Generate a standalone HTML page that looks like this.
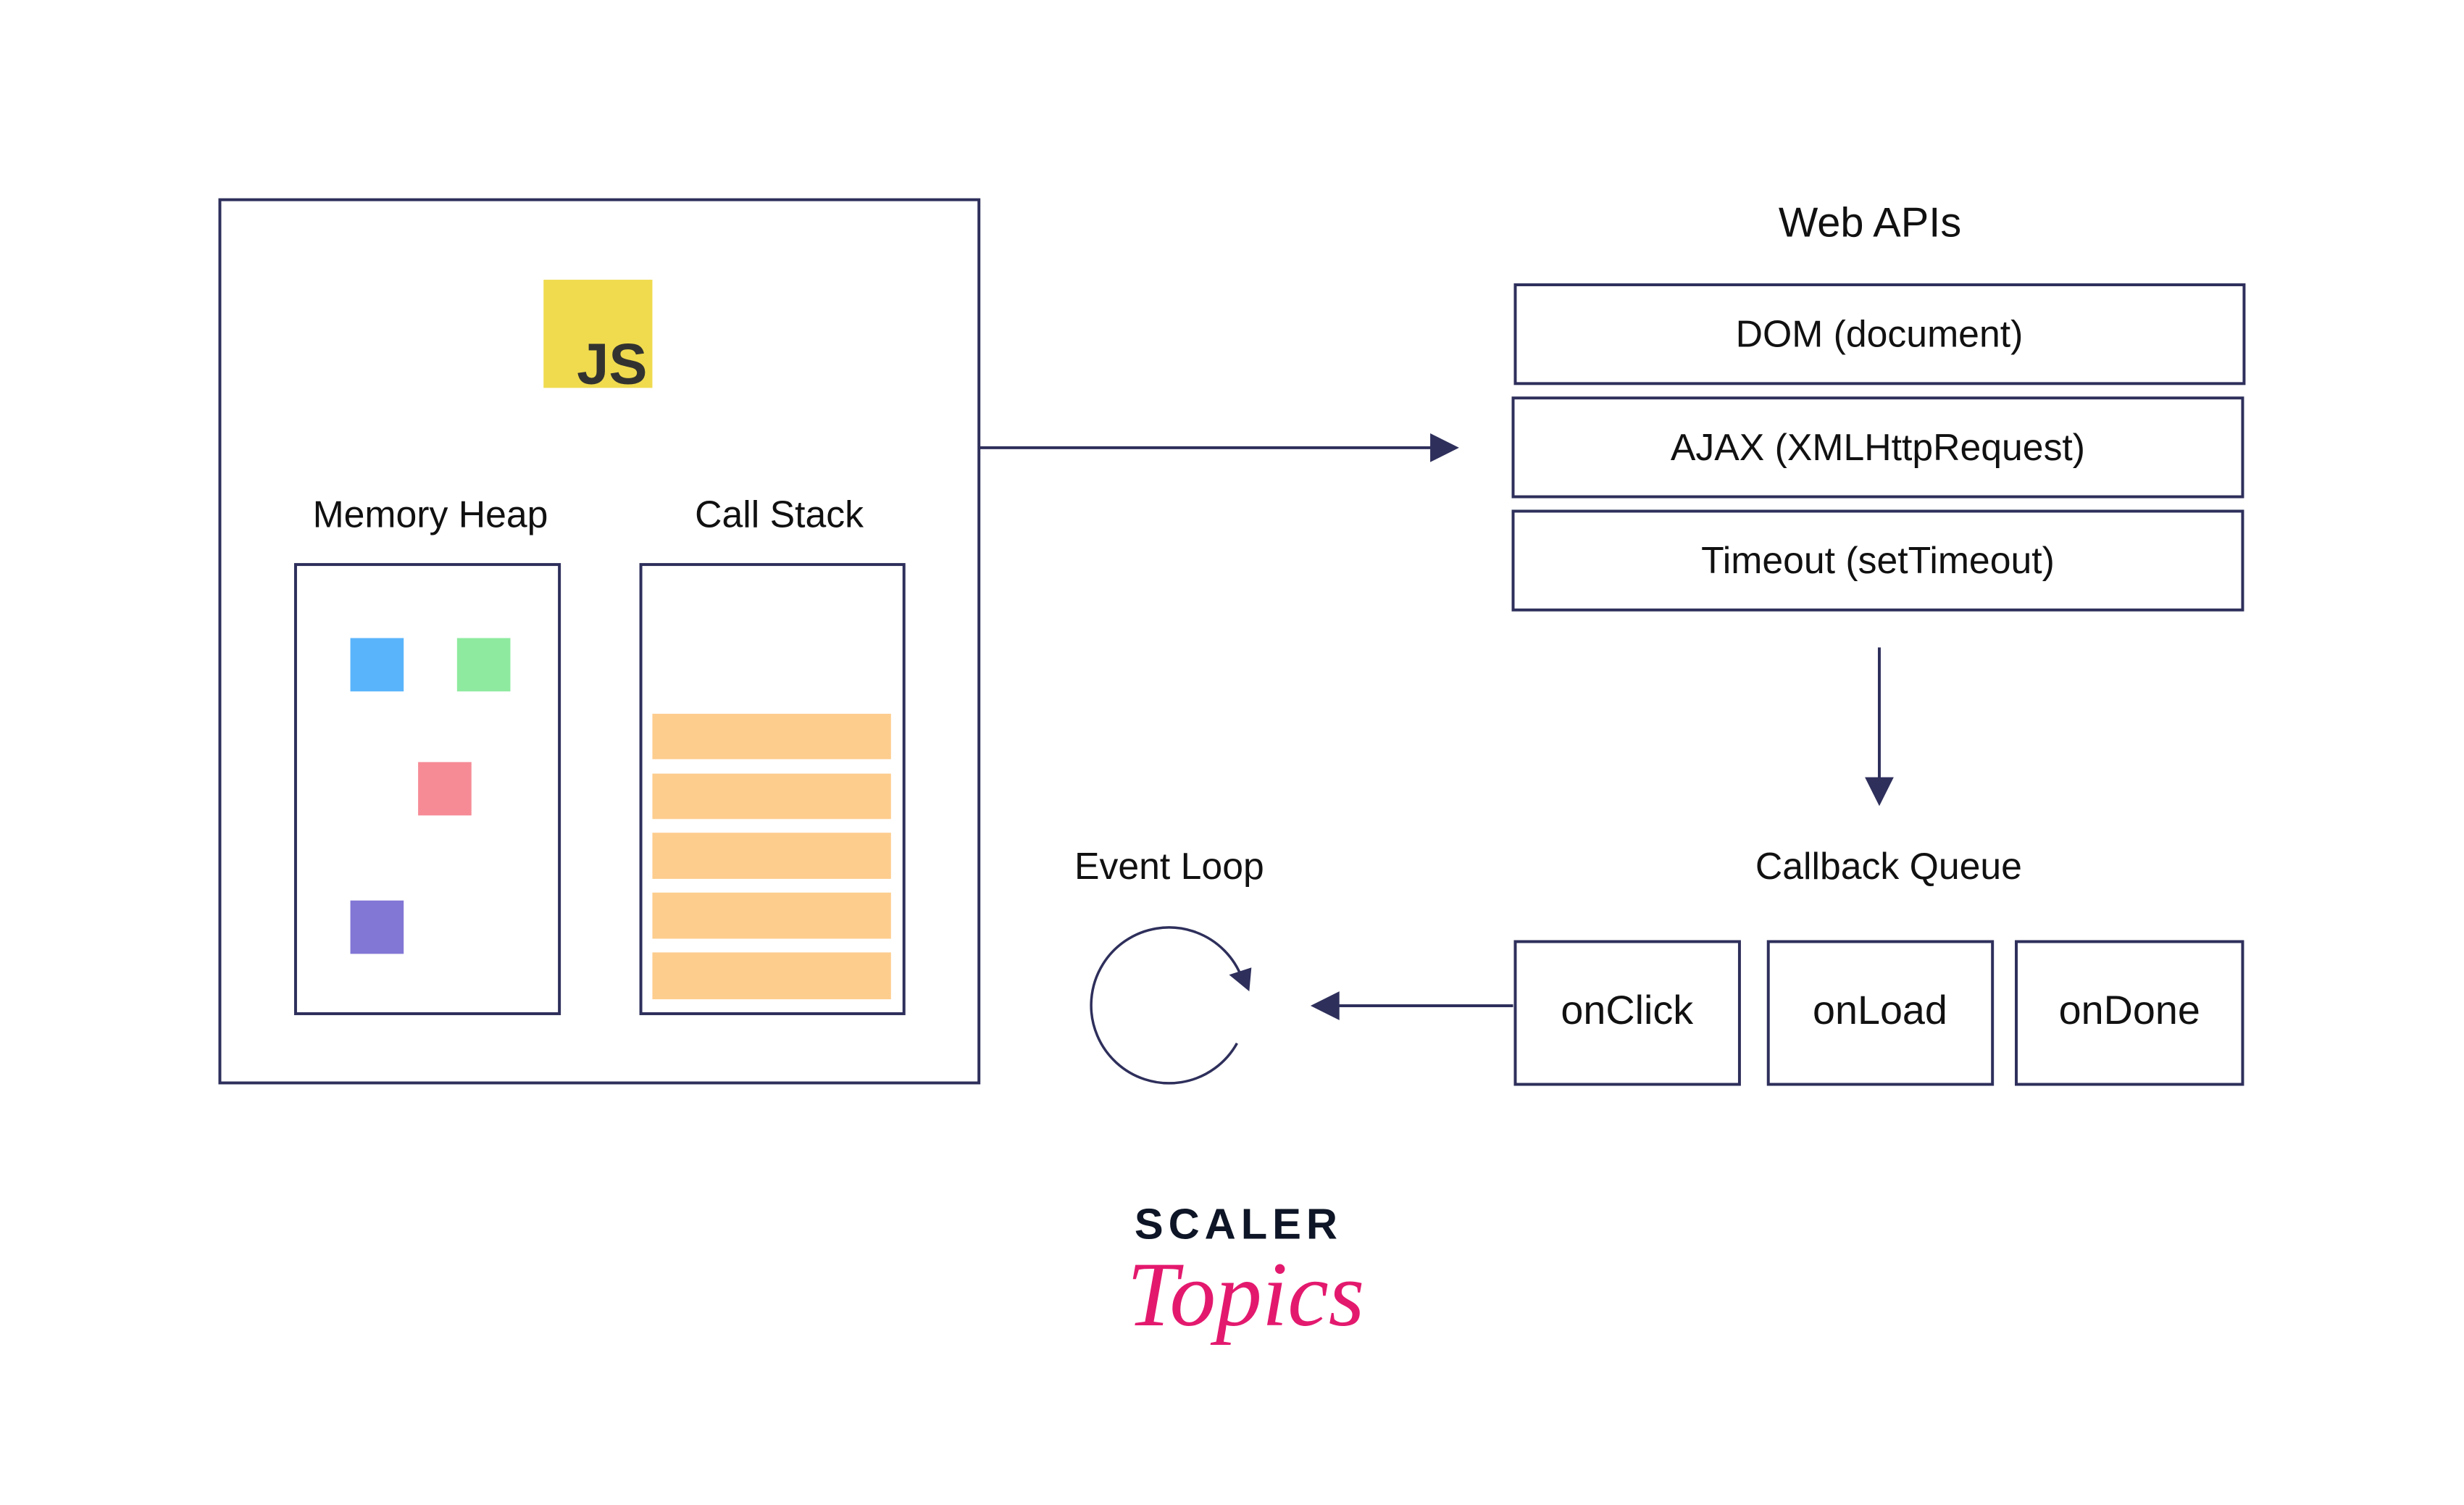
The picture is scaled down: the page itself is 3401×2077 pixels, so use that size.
<!DOCTYPE html>
<html><head><meta charset="utf-8"><style>
html,body{margin:0;padding:0;background:#fff;}
body{width:3401px;height:2077px;overflow:hidden;position:relative;}
</style></head><body>
<svg width="3401" height="2077" viewBox="0 0 3401 2077" xmlns="http://www.w3.org/2000/svg" style="position:absolute;left:0;top:0">
<defs><style>text{font-family:"Liberation Sans",sans-serif;fill:#111;}</style></defs>
<g transform="scale(0.995)">
<g fill="none" stroke="#2e2f5b" stroke-width="4">
<rect x="305" y="277" width="1053" height="1225"/>
<rect x="410" y="783" width="366" height="623"/>
<rect x="889" y="783" width="365" height="623"/>
<rect x="2102" y="395" width="1011" height="137"/>
<rect x="2099" y="552" width="1012" height="137"/>
<rect x="2099" y="709" width="1012" height="137"/>
<rect x="2102" y="1306" width="311" height="198"/>
<rect x="2453" y="1306" width="311" height="198"/>
<rect x="2797" y="1306" width="314" height="198"/>
<line x1="1358" y1="621" x2="1990" y2="621"/>
<line x1="2607" y1="898" x2="2607" y2="1085"/>
<line x1="2099" y1="1395" x2="1850" y2="1395"/>
<path d="M1723 1357 A108 108 0 1 0 1716 1447" stroke-width="3.5"/>
</g>
<g fill="#2e2f5b">
<polygon points="1984,601 2024,621 1984,641"/>
<polygon points="2587,1078 2627,1078 2607,1118"/>
<polygon points="1858,1375 1818,1395 1858,1415"/>
<polygon points="1705,1352 1736,1342 1733,1375"/>
</g>
<rect x="754" y="388" width="151" height="150" fill="#f0db4f"/>
<text x="898" y="532" font-size="80" font-weight="bold" text-anchor="end" style="fill:#323330">JS</text>
<rect x="486" y="885" width="74" height="74" fill="#5ab4fb"/>
<rect x="634" y="885" width="74" height="74" fill="#8eea9f"/>
<rect x="580" y="1057" width="74" height="74" fill="#f68b96"/>
<rect x="486" y="1249" width="74" height="74" fill="#8277d5"/>
<rect x="905" y="990" width="331" height="63" fill="#fdcd8e"/>
<rect x="905" y="1073" width="331" height="63" fill="#fdcd8e"/>
<rect x="905" y="1155" width="331" height="64" fill="#fdcd8e"/>
<rect x="905" y="1238" width="331" height="64" fill="#fdcd8e"/>
<rect x="905" y="1321" width="331" height="65" fill="#fdcd8e"/>
<g font-size="52" text-anchor="middle">
<text x="597" y="731">Memory Heap</text>
<text x="1081" y="731">Call Stack</text>
<text x="2594" y="328" font-size="58">Web APIs</text>
<text x="2607" y="481">DOM (document)</text>
<text x="2605" y="638">AJAX (XMLHttpRequest)</text>
<text x="2605" y="795">Timeout (setTimeout)</text>
<text x="1622" y="1219">Event Loop</text>
<text x="2620" y="1219">Callback Queue</text>
<text x="2257" y="1420" font-size="56">onClick</text>
<text x="2608" y="1420" font-size="56">onLoad</text>
<text x="2954" y="1420" font-size="56">onDone</text>
</g>
<text x="1718" y="1718" font-size="60" font-weight="bold" text-anchor="middle" letter-spacing="7" style="fill:#0d1526">SCALER</text>
<text x="1728" y="1838" font-size="128" font-style="italic" text-anchor="middle" style="fill:#e3196e;font-family:'Liberation Serif',serif">Topics</text>
</g>
</svg>
</body></html>
